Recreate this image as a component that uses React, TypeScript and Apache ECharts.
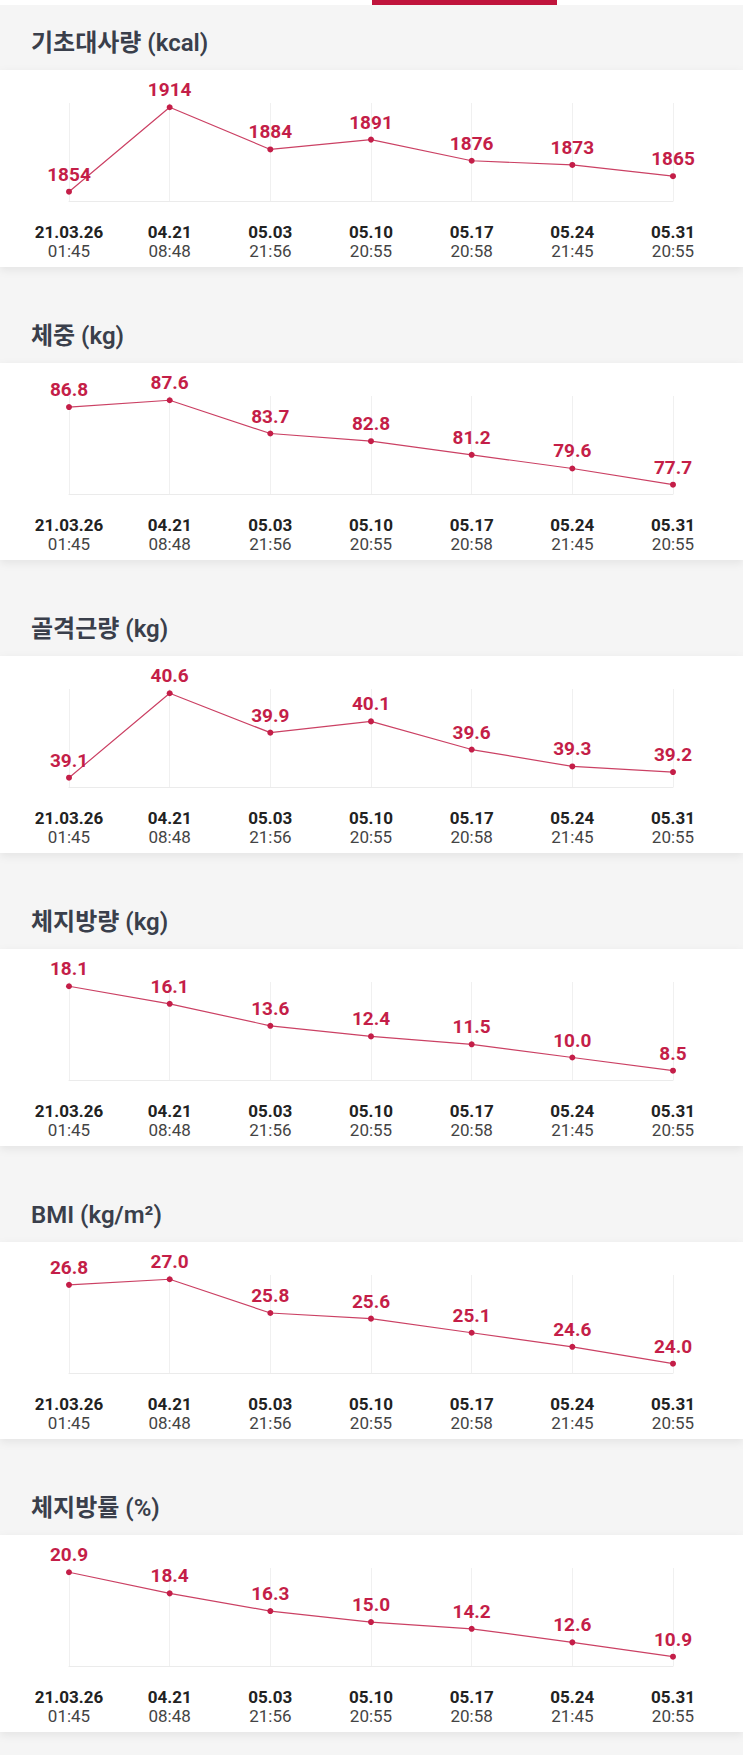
import React, { useEffect, useRef } from "react";
import * as echarts from "echarts";

const dates = ["21.03.26", "04.21", "05.03", "05.10", "05.17", "05.24", "05.31"];
const times = ["01:45", "08:48", "21:56", "20:55", "20:58", "21:45", "20:55"];

const bmr = [1854, 1914, 1884, 1891, 1876, 1873, 1865];
const weight = [86.8, 87.6, 83.7, 82.8, 81.2, 79.6, 77.7];
const muscle = [39.1, 40.6, 39.9, 40.1, 39.6, 39.3, 39.2];
const fatMass = [18.1, 16.1, 13.6, 12.4, 11.5, 10.0, 8.5];
const bmi = [26.8, 27.0, 25.8, 25.6, 25.1, 24.6, 24.0];
const fatPct = [20.9, 18.4, 16.3, 15.0, 14.2, 12.6, 10.9];

const titles = ["기초대사량 (kcal)", "체중 (kg)", "골격근량 (kg)", "체지방량 (kg)", "BMI (kg/m²)", "체지방률 (%)"];
const seriesData = [bmr, weight, muscle, fatMass, bmi, fatPct];
const decimals = [0, 1, 1, 1, 1, 1];

const FONT = "Roboto, 'Noto Sans CJK KR', sans-serif";
const RED = "#c41e48";
const PERIOD = 293;

export default function App() {
  const ref = useRef<HTMLDivElement>(null);

  useEffect(() => {
    document.body.style.margin = "0";
    if (!ref.current) return;
    const chart = echarts.init(ref.current, undefined, { renderer: "svg" });
    const categories = dates.map((d, i) => d + "\n" + times[i]);

    const graphic: any[] = [
      { type: "rect", z: -2, shape: { x: 0, y: 0, width: 743, height: 5 }, style: { fill: "#ffffff" } },
      { type: "rect", z: -1, shape: { x: 372, y: 0, width: 185, height: 5 }, style: { fill: "#c0143c" } },
    ];
    const grids: any[] = [];
    const xAxes: any[] = [];
    const yAxes: any[] = [];
    const series: any[] = [];

    titles.forEach((t, i) => {
      const base = PERIOD * i;
      graphic.push({
        type: "rect",
        z: -1,
        shape: { x: 0, y: base + 70, width: 743, height: 197 },
        style: { fill: "#ffffff", shadowBlur: 8, shadowColor: "rgba(0,0,0,0.07)", shadowOffsetY: 3 },
      });
      graphic.push({
        type: "text",
        z: 1,
        x: 31,
        y: base + 43,
        style: {
          text: t,
          fontSize: 24,
          fontWeight: 600,
          fontFamily: FONT,
          fill: "#3a3f4b",
          verticalAlign: "middle",
          align: "left",
        },
      });
      grids.push({ left: 69, right: 70, top: base + 103, height: 98 });
      xAxes.push({
        type: "category",
        gridIndex: i,
        data: categories,
        boundaryGap: false,
        axisLine: { show: true, lineStyle: { color: "#ebebeb", width: 1 } },
        axisTick: { show: false },
        splitLine: { show: true, lineStyle: { color: "#f0f0f0", width: 1 } },
        axisLabel: {
          interval: 0,
          margin: 21,
          formatter: (v: string) => {
            const [d, tm] = v.split("\n");
            return "{d|" + d + "}\n{t|" + tm + "}";
          },
          rich: {
            d: { fontSize: 17, fontWeight: "bold", color: "#222222", lineHeight: 19, fontFamily: FONT },
            t: { fontSize: 17, color: "#444444", lineHeight: 19, fontFamily: FONT },
          },
        },
      });
      yAxes.push({
        type: "value",
        gridIndex: i,
        show: false,
        splitLine: { show: false },
        min: (e: any) => e.min - (e.max - e.min) * 0.11,
        max: (e: any) => e.max + (e.max - e.min) * 0.05,
      });
      const dec = decimals[i];
      series.push({
        type: "line",
        xAxisIndex: i,
        yAxisIndex: i,
        data: seriesData[i],
        symbol: "circle",
        symbolSize: 6,
        lineStyle: { color: "#cb4164", width: 1.2 },
        itemStyle: { color: RED },
        label: {
          show: true,
          position: "top",
          distance: 5,
          fontSize: 19,
          fontWeight: "bold",
          fontFamily: FONT,
          color: RED,
          formatter: (p: any) => Number(p.value).toFixed(dec),
        },
        z: 3,
      });
    });

    chart.setOption({
      animation: false,
      backgroundColor: "#f5f5f5",
      textStyle: { fontFamily: FONT },
      graphic,
      grid: grids,
      xAxis: xAxes,
      yAxis: yAxes,
      series,
    });
    return () => chart.dispose();
  }, []);

  return <div ref={ref} style={{ width: 743, height: 1755 }} />;
}
